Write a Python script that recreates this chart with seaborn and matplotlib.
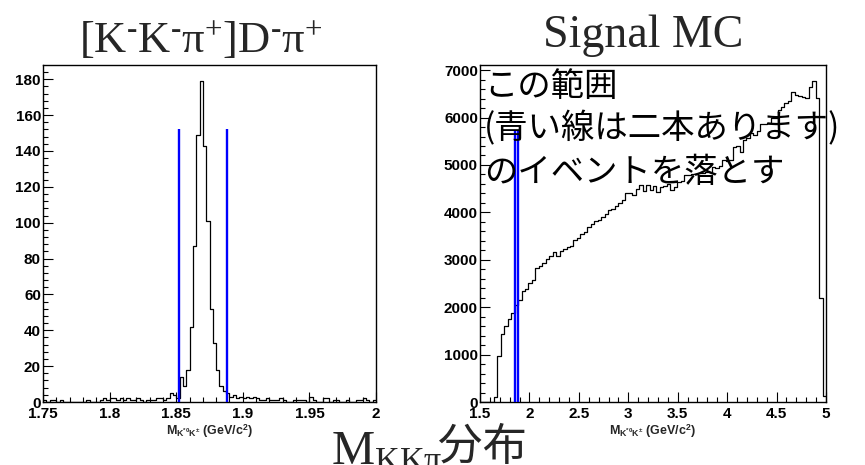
import matplotlib
matplotlib.use("Agg")
import matplotlib.pyplot as plt
from matplotlib.ticker import FixedLocator, AutoMinorLocator
import numpy as np
import pandas as pd
import seaborn as sns

# ---- data sample: M(K*0 K-) in 100 bins on [1.75, 2.00] GeV/c^2 ----
data_range = (1.75, 2.00)
data_counts = [
    1, 0, 1, 1, 0, 1, 0, 0, 0, 0,
    0, 0, 0, 1, 0, 0, 0, 1, 2, 1,
    2, 2, 1, 2, 1, 2, 1, 1, 2, 1,
    0, 1, 1, 1, 2, 2, 1, 2, 5, 4,
    2, 14, 9, 18, 42, 87, 149, 179, 143, 101,
    52, 33, 18, 9, 6, 5, 3, 4, 2, 3,
    2, 3, 2, 3, 2, 1, 1, 2, 1, 1,
    1, 2, 1, 0, 0, 1, 1, 1, 1, 0,
    3, 1, 0, 0, 2, 2, 0, 1, 1, 0,
    0, 1, 0, 0, 1, 1, 2, 1, 0, 1,
]

# ---- signal MC: M(K*0 K-) in 100 bins on [1.5, 5.0] GeV/c^2 ----
mc_range = (1.5, 5.0)
mc_counts = [
    0, 0, 0, 0, 110, 970, 1430, 1610, 1760, 1870,
    2050, 2150, 2340, 2390, 2510, 2580, 2830, 2870, 2940, 3010,
    3070, 3160, 3080, 3190, 3220, 3260, 3300, 3410, 3450, 3550,
    3590, 3690, 3750, 3820, 3840, 3900, 3960, 4060, 4080, 4130,
    4190, 4260, 4400, 4410, 4360, 4500, 4570, 4450, 4580, 4480,
    4560, 4440, 4530, 4550, 4600, 4480, 4540, 4650, 4660, 4780,
    4790, 4810, 4800, 4840, 4830, 4850, 4860, 4960, 4940, 4980,
    5100, 5090, 5110, 5370, 5400, 5270, 5520, 5570, 5680, 5640,
    5710, 5870, 5860, 5890, 5980, 5990, 6150, 6220, 6300, 6350,
    6540, 6470, 6460, 6430, 6420, 6640, 6770, 6420, 2200, 120,
]

# D+ veto window (GeV/c^2) and the heights the cut lines are drawn to
veto_edges = [1.852, 1.888]
data_cut_height = 152
mc_cut_height = 5710

data_xticks = [1.75, 1.80, 1.85, 1.90, 1.95, 2.00]
data_xticklabels = ["1.75", "1.8", "1.85", "1.9", "1.95", "2"]
data_yticks = [0, 20, 40, 60, 80, 100, 120, 140, 160, 180]

mc_xticks = [1.5, 2.0, 2.5, 3.0, 3.5, 4.0, 4.5, 5.0]
mc_xticklabels = ["1.5", "2", "2.5", "3", "3.5", "4", "4.5", "5"]
mc_yticks = [0, 1000, 2000, 3000, 4000, 5000, 6000, 7000]

data_title = (r"[K$^{\text{-}}$K$^{\text{-}}$π$^{\mathregular{+}}$]"
              r"D$^{\text{-}}$π$^{\mathregular{+}}$")
mc_title = "Signal MC"
mass_label = r"M$_{\mathregular{K^{*0}K^{\pm}}}$ (GeV/c$^{\mathregular{2}}$)"
note_lines = ["この範囲", "(青い線は二本あります)", "のイベントを落とす"]
bottom_symbol = r"M$_{\mathregular{KK\pi}}$"
bottom_word = "分布"

sns.set_theme(style="white")
plt.rcParams["font.family"] = ["Liberation Sans", "DejaVu Sans"]
plt.rcParams["font.weight"] = "bold"
plt.rcParams["axes.linewidth"] = 1.0
plt.rcParams["axes.edgecolor"] = "black"
plt.rcParams["mathtext.fontset"] = "custom"
plt.rcParams["mathtext.rm"] = "Liberation Serif"
plt.rcParams["mathtext.it"] = "Liberation Serif:italic"
plt.rcParams["mathtext.bf"] = "Liberation Serif:bold"

W, H = 865, 465
fig = plt.figure(figsize=(W / 100, H / 100), dpi=100)
fig.patch.set_facecolor("white")


def px_axes(left, top, right, bottom):
    return fig.add_axes([left / W, 1 - bottom / H, (right - left) / W, (bottom - top) / H])


def draw_panel(ax, xrange, counts, xticks, xticklabels, yticks, cut_height):
    n = len(counts)
    edges = np.linspace(xrange[0], xrange[1], n + 1)
    centers = 0.5 * (edges[:-1] + edges[1:])
    df = pd.DataFrame({"mass": centers, "entries": counts})
    sns.histplot(data=df, x="mass", weights="entries", bins=list(edges),
                 element="step", fill=False, color="black", linewidth=0.9, ax=ax)
    ax.vlines(veto_edges, 0, cut_height, color="#0000ff", linewidth=1.7, zorder=3)
    ax.set_xlim(*xrange)
    ax.set_ylim(0, max(counts) * 1.05)
    ax.xaxis.set_major_locator(FixedLocator(xticks))
    ax.set_xticklabels(xticklabels)
    ax.yaxis.set_major_locator(FixedLocator(yticks))
    ax.set_yticklabels([str(v) for v in yticks])
    ax.xaxis.set_minor_locator(AutoMinorLocator(5))
    ax.yaxis.set_minor_locator(AutoMinorLocator(5))
    ax.tick_params(which="both", direction="in", top=False, right=False,
                   bottom=True, left=True,
                   color="black", width=0.8, labelsize=11, labelcolor="black")
    ax.tick_params(which="major", length=7.2)
    ax.tick_params(which="minor", length=3.6)
    ax.tick_params(axis="x", pad=3.5)
    ax.tick_params(axis="y", pad=1.5)
    ax.set_ylabel("")
    ax.set_xlabel(mass_label, fontsize=9, fontweight="bold", labelpad=1.5)
    for s in ax.spines.values():
        s.set_visible(True)
        s.set_color("black")
        s.set_linewidth(1.0)
    ax.set_facecolor("white")


ax_data = px_axes(43, 65, 376, 402)
draw_panel(ax_data, data_range, data_counts, data_xticks, data_xticklabels,
           data_yticks, data_cut_height)

ax_mc = px_axes(480, 65, 826, 402)
draw_panel(ax_mc, mc_range, mc_counts, mc_xticks, mc_xticklabels,
           mc_yticks, mc_cut_height)

# panel titles
fig.text(201 / W, 1 - 53 / H, data_title, ha="center", va="baseline",
         family="Liberation Serif", fontweight="normal", fontsize=32)
fig.text(643 / W, 1 - 47 / H, mc_title, ha="center", va="baseline",
         family="Liberation Serif", fontweight="normal", fontsize=33)

# note written over the MC panel
for base, line in zip([96, 138, 182], note_lines):
    fig.text(484 / W, 1 - base / H, line, ha="left", va="baseline",
             family=["Noto Sans CJK JP", "DejaVu Sans"], fontweight="normal",
             fontsize=24, color="black", zorder=10)

# caption at the bottom
fig.text(331 / W, 1 - 464 / H, bottom_symbol, ha="left", va="baseline",
         family="Liberation Serif", fontweight="normal", fontsize=35)
fig.text(438 / W, 1 - 460 / H, bottom_word, ha="left", va="baseline",
         family=["Noto Sans CJK JP", "DejaVu Sans"], fontweight="normal", fontsize=32)

fig.savefig("out.png", dpi=100, facecolor="white")
